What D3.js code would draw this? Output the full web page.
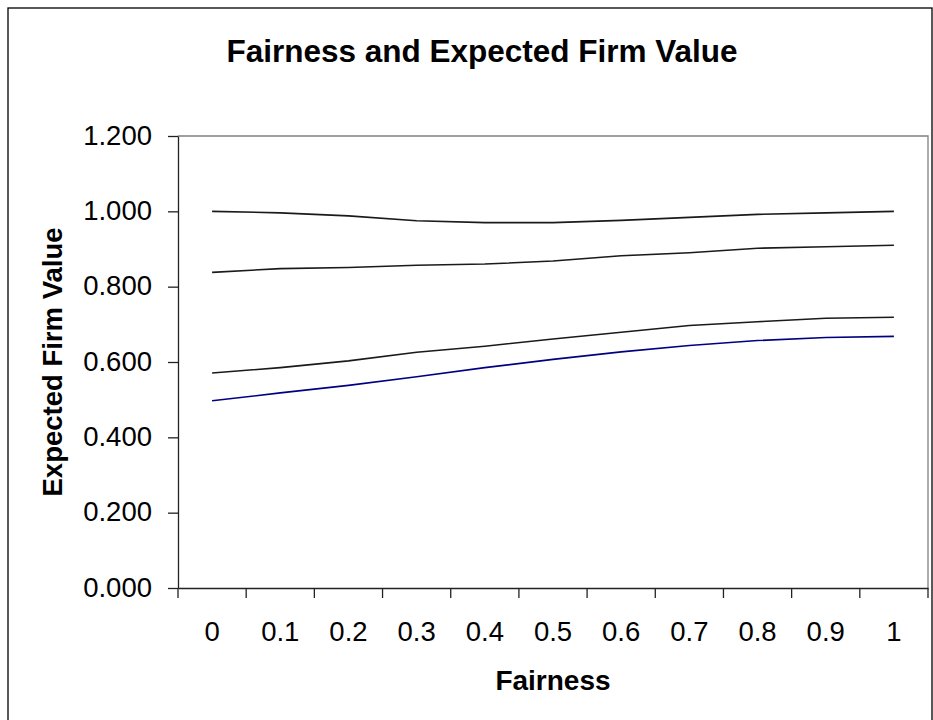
<!DOCTYPE html>
<html>
<head>
<meta charset="utf-8">
<script src="https://cdn.jsdelivr.net/npm/d3@7"></script>
<style>
  html, body { margin: 0; padding: 0; background: #fff; }
  svg { display: block; font-family: "Liberation Sans", Arial, sans-serif; }
</style>
</head>
<body>
<svg id="chart" width="933" height="720"></svg>
<script>
// ---- data ----
const categories = ["0", "0.1", "0.2", "0.3", "0.4", "0.5", "0.6", "0.7", "0.8", "0.9", "1"];
const seriesA = [1.000, 0.996, 0.988, 0.975, 0.970, 0.970, 0.976, 0.984, 0.992, 0.996, 1.000];
const seriesB = [0.838, 0.848, 0.851, 0.857, 0.860, 0.868, 0.882, 0.890, 0.902, 0.906, 0.910];
const seriesC = [0.571, 0.585, 0.603, 0.626, 0.642, 0.661, 0.679, 0.697, 0.707, 0.716, 0.719];
const seriesD = [0.497, 0.518, 0.538, 0.561, 0.585, 0.607, 0.627, 0.644, 0.657, 0.665, 0.668];
const yTicks = [0, 0.2, 0.4, 0.6, 0.8, 1.0, 1.2];
const titleText = "Fairness and Expected Firm Value";
const xTitle = "Fairness";
const yTitle = "Expected Firm Value";

// ---- layout ----
const svg = d3.select("#chart");
const pLeft = 178, pRight = 928, pTop = 136, pBottom = 588;

// outer chart border
svg.append("rect")
  .attr("x", 8).attr("y", 8).attr("width", 924).attr("height", 730)
  .attr("fill", "none").attr("stroke", "#000").attr("stroke-width", 1.3);

const x = d3.scaleBand().domain(categories).range([pLeft, pRight]).padding(0);
const y = d3.scaleLinear().domain([0, 1.2]).range([pBottom, pTop]);

// plot area border (gray top & right)
svg.append("path")
  .attr("d", `M${pLeft},${pTop}H${pRight}V${pBottom}`)
  .attr("fill", "none").attr("stroke", "#808080").attr("stroke-width", 1.3);

// y axis
const yAxis = svg.append("g")
  .attr("transform", `translate(${pLeft},0)`)
  .call(d3.axisLeft(y).tickValues(yTicks).tickFormat(d3.format(".3f"))
        .tickSize(10).tickPadding(16).tickSizeOuter(0));
yAxis.select(".domain").attr("stroke", "#222").attr("stroke-width", 1.3);
yAxis.selectAll(".tick line").attr("stroke", "#222").attr("stroke-width", 1.3);
yAxis.selectAll(".tick text").attr("font-size", 27.5).attr("fill", "#000")
  .attr("dy", "0.3em")
  .attr("font-family", "'Liberation Sans', Arial, sans-serif");

// x axis (labels at category centers, ticks at category boundaries)
const xAxis = svg.append("g")
  .attr("transform", `translate(0,${pBottom})`)
  .call(d3.axisBottom(x).tickSize(0).tickSizeOuter(0));
xAxis.select(".domain").attr("stroke", "#222").attr("stroke-width", 1.3);
xAxis.selectAll(".tick text")
  .attr("y", 33).attr("dy", "0.71em")
  .attr("font-size", 27.5).attr("fill", "#000")
  .attr("font-family", "'Liberation Sans', Arial, sans-serif");
const boundaries = categories.map(c => x(c)).concat([x.range()[1]]);
xAxis.selectAll(".bt").data(boundaries).enter().append("line")
  .attr("class", "bt")
  .attr("x1", d => d).attr("x2", d => d)
  .attr("y1", 0).attr("y2", 10)
  .attr("stroke", "#222").attr("stroke-width", 1.3);

// lines
const line = d3.line()
  .x((d, i) => x(categories[i]) + x.bandwidth() / 2)
  .y(d => y(d));
const seriesList = [
  { values: seriesA, color: "#1a1a1a" },
  { values: seriesB, color: "#1a1a1a" },
  { values: seriesC, color: "#1a1a1a" },
  { values: seriesD, color: "#000080" }
];
svg.append("g").selectAll("path").data(seriesList).enter().append("path")
  .attr("d", d => line(d.values))
  .attr("fill", "none")
  .attr("stroke", d => d.color)
  .attr("stroke-width", 1.6);

// titles
svg.append("text")
  .attr("x", 482).attr("y", 62)
  .attr("text-anchor", "middle")
  .attr("font-size", 31.5).attr("font-weight", "bold")
  .text(titleText);

svg.append("text")
  .attr("x", (pLeft + pRight) / 2).attr("y", 690)
  .attr("text-anchor", "middle")
  .attr("font-size", 28).attr("font-weight", "bold")
  .text(xTitle);

svg.append("text")
  .attr("transform", `translate(62,${(pTop + pBottom) / 2}) rotate(-90)`)
  .attr("text-anchor", "middle")
  .attr("font-size", 27.5).attr("font-weight", "bold")
  .text(yTitle);
</script>
</body>
</html>
